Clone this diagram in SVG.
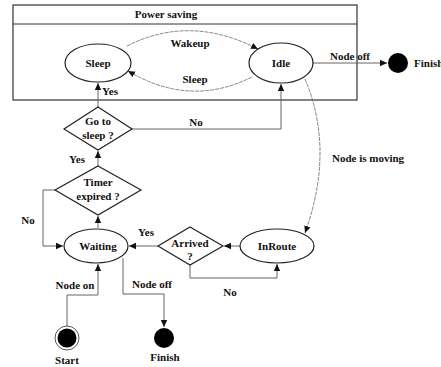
<svg xmlns="http://www.w3.org/2000/svg" width="441" height="367" viewBox="0 0 441 367" font-family="'Liberation Serif', 'Times New Roman', serif">
<defs>
<marker id="ah" markerWidth="8" markerHeight="8" refX="7" refY="4" orient="auto" markerUnits="userSpaceOnUse">
<path d="M0,0.8 L7,4 L0,7.2 z" fill="#111"/>
</marker>
<style>
text{font-family:"Liberation Serif","Times New Roman",serif;font-weight:bold;font-size:11px;fill:#111;text-anchor:middle}
.n{fill:#fff;stroke:#222;stroke-width:1.2}
.c{fill:none;stroke:#555;stroke-width:0.9}
.a{fill:none;stroke:#666;stroke-width:0.8;stroke-dasharray:4 1}
.dot{fill:#000}
</style>
</defs>
<rect width="441" height="367" fill="#fff"/>
<g id="power-saving">
<rect x="13" y="5" width="344" height="95" fill="none" stroke="#333" stroke-width="1.2"/>
<line x1="13" y1="24" x2="357" y2="24" stroke="#333" stroke-width="1"/>
<text x="166" y="18">Power saving</text>
</g>
<g id="connectors">
<path class="a" d="M127,46 Q190,14 258,49" marker-end="url(#ah)"/>
<path class="a" d="M252,77 Q190,108 128,71" marker-end="url(#ah)"/>
<path class="c" d="M313,63 L387,63" marker-end="url(#ah)"/>
<path class="a" d="M305,79 Q335,150 305,233" marker-end="url(#ah)"/>
<path class="c" d="M98,107 L98,83" marker-end="url(#ah)"/>
<path class="c" d="M132,129 L281,129 L281,84" marker-end="url(#ah)"/>
<path class="c" d="M98,166 L98,151" marker-end="url(#ah)"/>
<path class="c" d="M98,228 L98,216" marker-end="url(#ah)"/>
<path class="c" d="M55,190 L43,190 L43,246 L63,246" marker-end="url(#ah)"/>
<path class="c" d="M158,246 L129,246" marker-end="url(#ah)"/>
<path class="c" d="M240,246 L224,246" marker-end="url(#ah)"/>
<path class="c" d="M190,265 L190,278 L277,278 L277,264" marker-end="url(#ah)"/>
<path class="c" d="M67,326 L67,295 L98,295 L98,264" marker-end="url(#ah)"/>
<path class="c" d="M123,258 L123,294 L164,294 L164,327" marker-end="url(#ah)"/>
<text x="190" y="47">Wakeup</text>
<text x="195" y="83">Sleep</text>
<text x="350" y="60">Node off</text>
<text x="368" y="162">Node is moving</text>
<text x="110" y="95">Yes</text>
<text x="196" y="126">No</text>
<text x="77" y="163">Yes</text>
<text x="28" y="224">No</text>
<text x="146" y="236">Yes</text>
<text x="230" y="296">No</text>
<text x="75" y="289">Node on</text>
<text x="152" y="288">Node off</text>
</g>
<g id="sleep"><ellipse class="n" cx="98" cy="63" rx="33" ry="19"/><text x="98" y="67">Sleep</text></g>
<g id="idle"><ellipse class="n" cx="281" cy="63" rx="32" ry="20"/><text x="281" y="67">Idle</text></g>
<g id="finish-top"><circle class="dot" cx="398" cy="63" r="10"/><text x="414" y="67" style="text-anchor:start">Finish</text></g>
<g id="go-to-sleep"><polygon class="n" points="98,107 132,129 98,150 64,129"/><text x="98" y="125">Go to</text><text x="98" y="139">sleep ?</text></g>
<g id="timer-expired"><polygon class="n" points="98,166 141,190 98,215 55,190"/><text x="98" y="186">Timer</text><text x="98" y="200">expired ?</text></g>
<g id="waiting"><ellipse class="n" cx="96" cy="246" rx="32" ry="17"/><text x="98" y="250">Waiting</text></g>
<g id="arrived"><polygon class="n" points="190,227 223,246 190,265 158,246"/><text x="190" y="247">Arrived</text><text x="190" y="260">?</text></g>
<g id="inroute"><ellipse class="n" cx="277" cy="246" rx="37" ry="17"/><text x="277" y="250">InRoute</text></g>
<g id="start"><circle cx="67" cy="338" r="12" fill="#fff" stroke="#444" stroke-width="0.9"/><circle class="dot" cx="67" cy="338" r="9.5"/><text x="67" y="364">Start</text></g>
<g id="finish-bottom"><circle class="dot" cx="164" cy="338" r="10"/><text x="165" y="361">Finish</text></g>
</svg>
